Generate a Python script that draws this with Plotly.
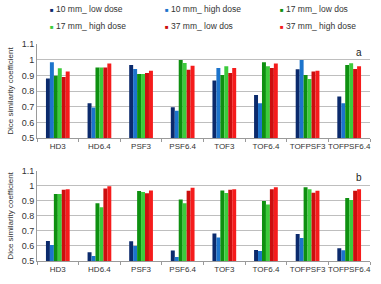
import plotly.graph_objects as go
from plotly.subplots import make_subplots

categories = ["HD3", "HD6.4", "PSF3", "PSF6.4", "TOF3", "TOF6.4", "TOFPSF3", "TOFPSF6.4"]
series_names = ["10 mm_ low dose", "10 mm_ high dose", "17 mm_ low dos",
                "17 mm_ high dose", "37 mm_ low dos", "37 mm_ high dose"]
colors = ["#0B2A6C", "#1C74CC", "#0E9010", "#3CCB3C", "#CC0E0E", "#F51C1C"]

# panel a
a_10_low  = [0.880, 0.722, 0.966, 0.697, 0.868, 0.775, 0.939, 0.765]
a_10_high = [0.983, 0.695, 0.940, 0.674, 0.947, 0.722, 0.998, 0.722]
a_17_low  = [0.898, 0.951, 0.909, 0.998, 0.903, 0.983, 0.903, 0.966]
a_17_high = [0.945, 0.951, 0.909, 0.979, 0.958, 0.958, 0.877, 0.977]
a_37_low  = [0.890, 0.951, 0.915, 0.936, 0.915, 0.947, 0.924, 0.940]
a_37_high = [0.924, 0.975, 0.930, 0.962, 0.947, 0.975, 0.930, 0.958]

# panel b
b_10_low  = [0.633, 0.559, 0.631, 0.570, 0.683, 0.574, 0.679, 0.585]
b_10_high = [0.607, 0.533, 0.600, 0.526, 0.657, 0.566, 0.653, 0.572]
b_17_low  = [0.945, 0.884, 0.965, 0.910, 0.969, 0.900, 0.991, 0.919]
b_17_high = [0.945, 0.858, 0.959, 0.884, 0.952, 0.876, 0.978, 0.906]
b_37_low  = [0.974, 0.983, 0.950, 0.967, 0.974, 0.978, 0.954, 0.967]
b_37_high = [0.978, 0.998, 0.969, 0.987, 0.978, 0.991, 0.967, 0.978]

panel_a = [a_10_low, a_10_high, a_17_low, a_17_high, a_37_low, a_37_high]
panel_b = [b_10_low, b_10_high, b_17_low, b_17_high, b_37_low, b_37_high]

W, H = 381, 284
ml, mr, mt, mb = 31, 10, 44, 21
pw = W - ml - mr
ph = H - mt - mb

fig = make_subplots(rows=2, cols=1)
for i, name in enumerate(series_names):
    fig.add_trace(go.Bar(x=categories, y=panel_a[i], name=name, marker_color=colors[i],
                         marker_line_width=0, showlegend=False), row=1, col=1)
    fig.add_trace(go.Bar(x=categories, y=panel_b[i], name=name, marker_color=colors[i],
                         marker_line_width=0, showlegend=False), row=2, col=1)

fam = "Liberation Sans, Arial, sans-serif"
txt = "#333333"
font = dict(family=fam, color=txt)
top_dom = [(H - mb - 139) / ph, 1.0]
bot_dom = [0.0, (H - mb - 172) / ph]

yax = dict(range=[0.5, 1.1], dtick=0.1, tick0=0.5, showgrid=True, gridcolor="#BEBEBE",
           gridwidth=1, showline=True, linecolor="#9A9A9A", linewidth=1,
           ticks="", tickfont=dict(size=9, **font),
           title=dict(text="Dice similarity coefficient", font=dict(size=8, **font), standoff=6),
           zeroline=False)
xax = dict(showline=True, linecolor="#9A9A9A", linewidth=1, ticks="outside",
           tickson="boundaries", ticklen=3, tickcolor="#9A9A9A", tickangle=0,
           tickfont=dict(size=8, **font), showgrid=False)

# legend drawn as text annotations (3 columns x 2 rows)
leg_x = [45, 163, 280]
leg_y = [9, 26]
annotations = []
for i, name in enumerate(series_names):
    col, row = i % 3, i // 3
    annotations.append(dict(
        text=f'<span style="color:{colors[i]};font-size:6px">■</span> {name}',
        xref="paper", yref="paper",
        x=(leg_x[col] - 3 - ml) / pw, y=(H - mb - leg_y[row]) / ph,
        xanchor="left", yanchor="middle", showarrow=False,
        font=dict(size=8.5, family=fam, color=txt)))
annotations += [
    dict(text="a", xref="paper", yref="paper", x=(360 - ml) / pw,
         y=(H - mb - 53) / ph, xanchor="center", yanchor="middle", showarrow=False,
         font=dict(size=10, family=fam, color="#222")),
    dict(text="b", xref="paper", yref="paper", x=(360 - ml) / pw,
         y=(H - mb - 179) / ph, xanchor="center", yanchor="middle", showarrow=False,
         font=dict(size=10, family=fam, color="#222")),
]

fig.update_layout(
    width=W, height=H,
    margin=dict(l=ml, r=mr, t=mt, b=mb),
    paper_bgcolor="white", plot_bgcolor="white",
    barmode="group", bargap=0.43, bargroupgap=0,
    font=font, showlegend=False,
    yaxis=dict(domain=top_dom, **yax),
    yaxis2=dict(domain=bot_dom, **yax),
    xaxis=dict(**xax),
    xaxis2=dict(**xax),
    annotations=annotations,
)

fig.write_html("out.html")
